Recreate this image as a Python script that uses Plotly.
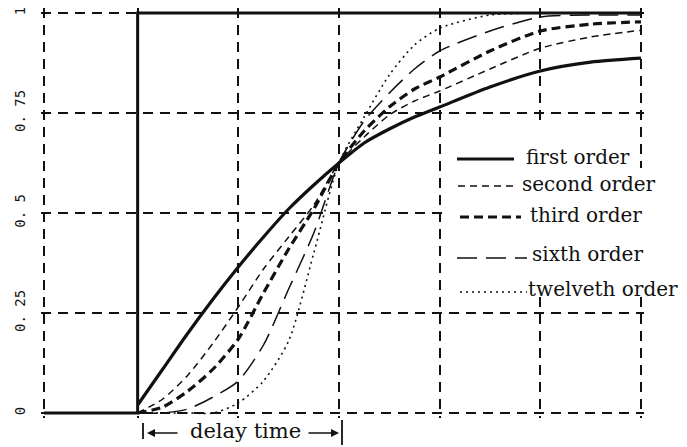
import plotly.graph_objects as go

# ---- data (time in grid units; delay time = 2 units) ----
t = [0, 0.25, 0.5, 0.75, 1.0, 1.25, 1.5, 1.75, 2.0, 2.25, 2.5, 2.75, 3.0, 3.5, 4.0, 4.5, 5.0]
first_order = [0.02, 0.11, 0.20, 0.285, 0.365, 0.44, 0.51, 0.57, 0.625, 0.675, 0.71, 0.74, 0.765, 0.815, 0.855, 0.877, 0.887]
second_order = [0.0, 0.035, 0.095, 0.175, 0.265, 0.36, 0.44, 0.52, 0.625, 0.69, 0.745, 0.78, 0.805, 0.86, 0.912, 0.94, 0.957]
third_order = [0.0, 0.015, 0.055, 0.11, 0.185, 0.30, 0.41, 0.51, 0.625, 0.705, 0.765, 0.81, 0.84, 0.905, 0.955, 0.972, 0.978]
sixth_order = [0.0, 0.0, 0.01, 0.04, 0.08, 0.17, 0.31, 0.45, 0.625, 0.73, 0.80, 0.86, 0.905, 0.955, 0.99, 0.995, 0.995]
twelfth_order = [0.0, 0.0, 0.0, 0.0, 0.025, 0.08, 0.18, 0.40, 0.625, 0.74, 0.845, 0.92, 0.962, 0.995, 1.0, 1.0, 1.0]

step_x = [-0.93, 0, 0, 5]
step_y = [0, 0, 1, 1]

x_grid = [-0.93, 0, 1, 2, 3, 4, 5]
y_ticks = [0, 0.25, 0.5, 0.75, 1]
y_ticktext = ["0", "0. 25", "0. 5", "0. 75", "1"]

legend_names = ["first order", "second order", "third order", "sixth order", "twelveth order"]

# ---- styles ----
INK = "#111111"
styles = [
    dict(width=3.2, dash="solid"),
    dict(width=1.5, dash="7px,5px"),
    dict(width=3.2, dash="9px,5px"),
    dict(width=1.5, dash="20px,9px"),
    dict(width=1.6, dash="2px,4px"),
]
series = [first_order, second_order, third_order, sixth_order, twelfth_order]

# the page body adds an 8px margin, so the figure is laid out 8px up/left
OFF = 8
W, H = 679, 439
ML, MT = 33, 0
PW, PH = 603, 410
MR, MB = W - ML - PW, H - MT - PH


def px2x(px):
    """screen pixel -> paper x"""
    return (px - OFF - ML) / PW


def px2y(py):
    """screen pixel -> paper y"""
    return (MT + PH - (py - OFF)) / PH


fig = go.Figure()

for ys, st, name in zip(series, styles, legend_names):
    fig.add_trace(go.Scatter(
        x=t, y=ys, mode="lines", name=name, showlegend=False, hoverinfo="skip",
        line=dict(color=INK, width=st["width"], dash=st["dash"], shape="spline", smoothing=0.7),
    ))

fig.add_trace(go.Scatter(
    x=step_x, y=step_y, mode="lines", showlegend=False, hoverinfo="skip",
    line=dict(color=INK, width=3),
))

shapes = []
# legend white background
shapes.append(dict(type="rect", xref="paper", yref="paper", layer="above",
                   x0=px2x(446), x1=px2x(637), y0=px2y(296), y1=px2y(120),
                   line=dict(width=0), fillcolor="white"))
shapes.append(dict(type="rect", xref="paper", yref="paper", layer="above",
                   x0=px2x(446), x1=px2x(650), y0=px2y(296), y1=px2y(168),
                   line=dict(width=0), fillcolor="white"))

leg_rows = [159, 186, 217, 258, 292]
leg_line = [(457, 514), (458, 517), (460, 521), (457, 527), (460, 527)]
leg_text_x = [524, 520, 528, 530, 526]
leg_text_y = [157, 184, 215, 254, 289]
annotations = []
for i, name in enumerate(legend_names):
    x0, x1 = leg_line[i]
    shapes.append(dict(type="line", xref="paper", yref="paper", layer="above",
                       x0=px2x(x0), x1=px2x(x1), y0=px2y(leg_rows[i]), y1=px2y(leg_rows[i]),
                       line=dict(color=INK, width=styles[i]["width"], dash=styles[i]["dash"])))
    annotations.append(dict(xref="paper", yref="paper", x=px2x(leg_text_x[i]), y=px2y(leg_text_y[i]),
                            text=name, showarrow=False, xanchor="left", yanchor="middle",
                            font=dict(family="DejaVu Serif", size=20, color=INK)))

# delay time marker
shapes.append(dict(type="line", xref="paper", yref="paper", layer="above",
                   x0=px2x(143), x1=px2x(143), y0=px2y(439), y1=px2y(423),
                   line=dict(color=INK, width=1.8)))
shapes.append(dict(type="line", xref="paper", yref="paper", layer="above",
                   x0=px2x(342), x1=px2x(342), y0=px2y(445), y1=px2y(420),
                   line=dict(color=INK, width=1.8)))
annotations.append(dict(xref="paper", yref="paper", x=px2x(245), y=px2y(431),
                        text="delay time", showarrow=False,
                        xanchor="center", yanchor="middle",
                        font=dict(family="DejaVu Serif", size=21, color=INK)))
# arrows
annotations.append(dict(xref="paper", yref="paper", x=px2x(147), y=px2y(433), text="",
                        showarrow=True, ax=32, ay=0, arrowhead=2, arrowsize=1,
                        arrowwidth=1.6, arrowcolor=INK))
annotations.append(dict(xref="paper", yref="paper", x=px2x(339), y=px2y(433), text="",
                        showarrow=True, ax=-32, ay=0, arrowhead=2, arrowsize=1,
                        arrowwidth=1.6, arrowcolor=INK))

fig.update_layout(
    width=W, height=H,
    margin=dict(l=ML, r=MR, t=MT, b=MB, pad=0),
    paper_bgcolor="white", plot_bgcolor="white",
    shapes=shapes, annotations=annotations,
    xaxis=dict(range=[-0.96, 5.03], tickvals=x_grid, showticklabels=False, ticks="",
               showgrid=True, gridcolor=INK, gridwidth=1.8, griddash="10px,7px",
               zeroline=False, showline=False, fixedrange=True, automargin=False),
    yaxis=dict(range=[-0.0125, 1.0125], tickvals=y_ticks, ticktext=y_ticktext, tickangle=-90,
               ticks="", showgrid=True, gridcolor=INK, gridwidth=1.8, griddash="10px,7px",
               zeroline=False, showline=False, fixedrange=True, automargin=False,
               ticklabelstandoff=12, ticklabeloverflow="allow",
               tickfont=dict(family="DejaVu Sans Mono", size=14, color=INK)),
)

fig.write_html("out.html")
